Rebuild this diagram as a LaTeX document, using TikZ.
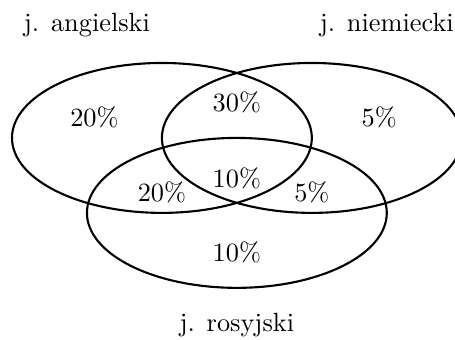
\documentclass[tikz,border=0pt]{standalone}
\usepackage{tikz}
\usetikzlibrary{positioning}
\tikzset{
  zbior/.style={draw=black, thick},
  procent/.style={font=\normalsize},
}

\begin{document}
\begin{tikzpicture}
\useasboundingbox (-2.16,-2.69) rectangle (3.91,1.84);

% Zbiory
\draw[zbior] (0,0) ellipse (2 and 1);
\draw[zbior] (2,0) ellipse (2 and 1);
\draw[zbior] (1,-1) ellipse (2 and 1);

% Nazwy zbiorow
\node (ang) at (-1,1.5) {j. angielski};
\node (niem) at (3,1.5) {j. niemiecki};
\node (ros) at (1,-2.5) {j. rosyjski};

% Procenty
\node[procent] (a) at (-0.9,0.28) {20\%};
\node[procent] (an) at (1,0.47) {30\%};
\node[procent] (n) at (2.9,0.28) {5\%};
\node[procent] (ar) at (0,-0.73) {20\%};
\node[procent] (anr) at (1,-0.54) {10\%};
\node[procent] (nr) at (2,-0.73) {5\%};
\node[procent] (r) at (1,-1.52) {10\%};

\end{tikzpicture}
\end{document}
